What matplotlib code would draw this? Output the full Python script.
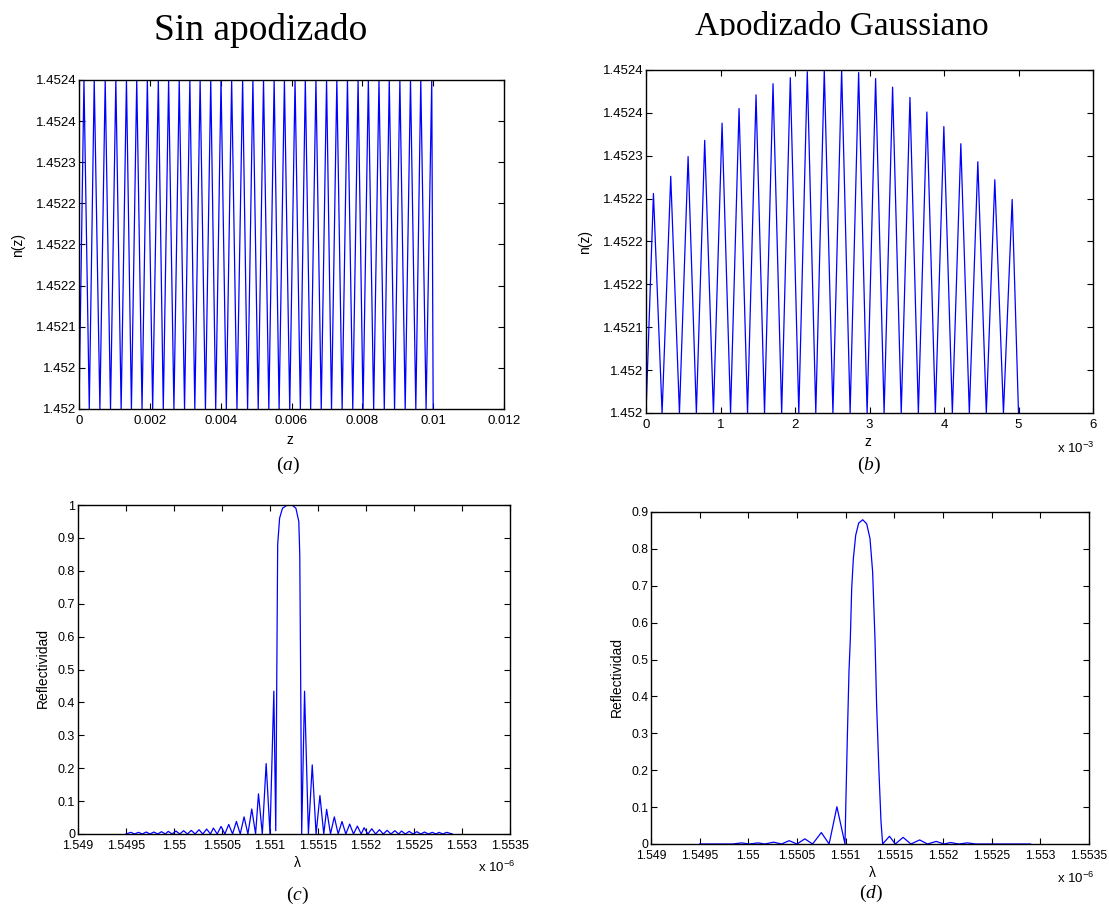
import matplotlib.pyplot as plt
from matplotlib.patches import Rectangle

plt.rcParams['font.family'] = ['Liberation Sans', 'DejaVu Sans']
plt.rcParams['mathtext.fontset'] = 'custom'
plt.rcParams['mathtext.rm'] = 'Liberation Serif'
plt.rcParams['mathtext.it'] = 'Liberation Serif:italic'
plt.rcParams['mathtext.default'] = 'regular'

W, H = 1109, 906
BLUE = (0, 0, 1)

# (a) uniform grating: troughs / crests of n(z), z in m
a_trough_z = [0.0, 0.00029, 0.00059, 0.00089, 0.00119, 0.00148, 0.00178, 0.00208,
              0.00238, 0.00268, 0.00298, 0.00327, 0.00357, 0.00386, 0.00416, 0.00446,
              0.00476, 0.00506, 0.00536, 0.00565, 0.00595, 0.00625, 0.00654, 0.00684,
              0.00713, 0.00743, 0.00773, 0.00802, 0.00832, 0.00862, 0.00891, 0.00921,
              0.00951, 0.00980, 0.01]
a_crest_z = [0.00014, 0.00043, 0.00074, 0.00104, 0.00134, 0.00163, 0.00193, 0.00224,
             0.00253, 0.00283, 0.00313, 0.00342, 0.00372, 0.00401, 0.00431, 0.00462,
             0.00491, 0.00521, 0.00551, 0.00580, 0.00610, 0.00639, 0.00669, 0.00699,
             0.00728, 0.00758, 0.00788, 0.00817, 0.00847, 0.00876, 0.00906, 0.00936,
             0.00965, 0.00996]
n_low, n_high = 1.4520, 1.4524

# (b) gaussian apodized grating, z in units of 1e-3 m
b_trough_z = [0.0, 0.216, 0.449, 0.676, 0.905, 1.135, 1.363, 1.591, 1.821, 2.051,
              2.279, 2.509, 2.740, 2.968, 3.196, 3.426, 3.656, 3.884, 4.112, 4.340,
              4.568, 4.798, 5.0]
b_crest_z = [0.100, 0.332, 0.565, 0.788, 1.021, 1.249, 1.477, 1.705, 1.937, 2.165,
             2.393, 2.626, 2.854, 3.082, 3.310, 3.543, 3.770, 3.998, 4.226, 4.454,
             4.682, 4.915]
b_crest_n = [1.452256, 1.452276, 1.452299, 1.452318, 1.452338, 1.452355, 1.452371,
             1.452384, 1.452391, 1.452398, 1.452400, 1.452400, 1.452397, 1.452390,
             1.452380, 1.452368, 1.452351, 1.452334, 1.452314, 1.452293, 1.452272,
             1.452249]

n_ticks = [1.45200, 1.45205, 1.45210, 1.45215, 1.45220, 1.45225, 1.45230, 1.45235, 1.45240]
n_ticklabels = ['1.452', '1.452', '1.4521', '1.4522', '1.4522', '1.4522', '1.4523',
                '1.4524', '1.4524']
a_xticks = [0, 0.002, 0.004, 0.006, 0.008, 0.01, 0.012]
a_xticklabels = ['0', '0.002', '0.004', '0.006', '0.008', '0.01', '0.012']
b_xticks = [0, 1, 2, 3, 4, 5, 6]

# (c) reflectivity, uniform grating; wavelength in units of 1e-6 m
c_left_trough = [1.5495, 1.54959, 1.54967, 1.54975, 1.54983, 1.54991, 1.54998, 1.55006,
                 1.55014, 1.55022, 1.55030, 1.55038, 1.55045, 1.55053, 1.55061, 1.55069,
                 1.55077, 1.55085, 1.55092, 1.55100]
c_left_peak = [1.54955, 1.54963, 1.54971, 1.54979, 1.54987, 1.54994, 1.55002, 1.55010,
               1.55018, 1.55026, 1.55034, 1.55041, 1.55049, 1.55057, 1.55065, 1.55073,
               1.55081, 1.55088, 1.55096, 1.55104]
c_left_R = [0.005, 0.005, 0.006, 0.006, 0.007, 0.008, 0.009, 0.010, 0.011, 0.013,
            0.015, 0.018, 0.023, 0.029, 0.038, 0.052, 0.076, 0.122, 0.214, 0.434]
c_main_lam = [1.55106, 1.55107, 1.55108, 1.55110, 1.55113, 1.55118, 1.55123, 1.55127,
              1.55130, 1.55131, 1.55132, 1.55133]
c_main_R = [0.01, 0.45, 0.88, 0.96, 0.99, 1.0, 1.0, 0.99, 0.95, 0.85, 0.45, 0.0]
c_right_peak = [1.55136, 1.55144, 1.55152, 1.55159, 1.55167, 1.55175, 1.55183, 1.55191,
                1.55198, 1.55206, 1.55214, 1.55222, 1.55230, 1.55237, 1.55245, 1.55253,
                1.55261, 1.55269, 1.55276, 1.55284]
c_right_R = [0.434, 0.210, 0.117, 0.075, 0.052, 0.038, 0.030, 0.024, 0.019, 0.016,
             0.013, 0.011, 0.010, 0.009, 0.008, 0.007, 0.006, 0.005, 0.005, 0.005]
c_right_trough = [1.55140, 1.55148, 1.55156, 1.55163, 1.55171, 1.55179, 1.55187, 1.55195,
                  1.55202, 1.55210, 1.55218, 1.55226, 1.55234, 1.55241, 1.55249, 1.55257,
                  1.55265, 1.55273, 1.55280, 1.55290]

# (d) reflectivity, gaussian apodization
d_start = 1.5495
d_left_trough = [1.54984, 1.55001, 1.55017, 1.55034, 1.55050, 1.55066, 1.55083]
d_left_peak = [1.54993, 1.55010, 1.55026, 1.55042, 1.55058, 1.55075, 1.55091]
d_left_R = [0.003, 0.003, 0.005, 0.009, 0.014, 0.031, 0.101]
d_main_lam = [1.550993, 1.551003, 1.551017, 1.551034, 1.551048, 1.551062, 1.551079,
              1.551103, 1.551134, 1.551175, 1.551216, 1.551250, 1.551277, 1.551301,
              1.551318, 1.551342, 1.551363, 1.551380]
d_main_R = [0.0, 0.124, 0.287, 0.467, 0.557, 0.693, 0.774, 0.837, 0.870, 0.879, 0.868,
            0.828, 0.738, 0.557, 0.377, 0.196, 0.061, 0.0]
d_right_peak = [1.55145, 1.55159, 1.55176, 1.55193, 1.55208, 1.55225]
d_right_R = [0.021, 0.018, 0.011, 0.007, 0.004, 0.003]
d_right_trough = [1.55151, 1.55167, 1.55184, 1.55201, 1.55216, 1.55234]
d_end = 1.5529

lam_ticks = [1.549, 1.5495, 1.55, 1.5505, 1.551, 1.5515, 1.552, 1.5525, 1.553, 1.5535]
lam_ticklabels = ['1.549', '1.5495', '1.55', '1.5505', '1.551', '1.5515', '1.552',
                  '1.5525', '1.553', '1.5535']
r_yticks = [0, 0.1, 0.2, 0.3, 0.4, 0.5, 0.6, 0.7, 0.8, 0.9, 1]
r_yticklabels = ['0', '0.1', '0.2', '0.3', '0.4', '0.5', '0.6', '0.7', '0.8', '0.9', '1']


def zigzag(lows, peaks, heights, base, peak_first=False):
    """Alternate base-level points with peaks; a surplus low closes the run."""
    xs, ys = [], []
    for i in range(len(peaks)):
        if peak_first:
            xs += [peaks[i], lows[i]]
            ys += [heights[i], base]
        else:
            xs += [lows[i], peaks[i]]
            ys += [base, heights[i]]
    if len(lows) > len(peaks):
        xs.append(lows[-1])
        ys.append(base)
    return xs, ys


fig = plt.figure(figsize=(W / 100, H / 100), dpi=100)


def panel(l, t, r, b, size=9.5):
    ax = fig.add_axes([l / W, 1 - b / H, (r - l) / W, (b - t) / H])
    ax.tick_params(direction='in', top=True, right=True, length=4, width=0.8,
                   labelsize=size, colors='black')
    ax.tick_params(axis='x', pad=4)
    ax.tick_params(axis='y', pad=2)
    for s in ax.spines.values():
        s.set_linewidth(1.0)
    return ax


def ftext(x, y, s, **kw):
    return fig.text(x / W, 1 - y / H, s, **kw)


# (a)
ax = panel(79, 80, 504, 409)
za, na = zigzag(a_trough_z, a_crest_z, [n_high] * len(a_crest_z), n_low)
ax.plot(za, na, color=BLUE, lw=0.9)
ax.set_xlim(0, 0.012)
ax.set_ylim(n_low, n_high)
ax.set_xticks(a_xticks, a_xticklabels)
ax.set_yticks(n_ticks, n_ticklabels)

# (b)
ax = panel(646, 70, 1093, 413)
zb, nb = zigzag(b_trough_z, b_crest_z, b_crest_n, n_low)
ax.plot(zb, nb, color=BLUE, lw=0.9)
ax.set_xlim(0, 6)
ax.set_ylim(n_low, n_high)
ax.set_xticks(b_xticks, [str(v) for v in b_xticks])
ax.set_yticks(n_ticks, n_ticklabels)

# (c)
ax = panel(78, 505, 510, 834, size=9)
xl, yl = zigzag(c_left_trough, c_left_peak, c_left_R, 0.0)
xr, yr = zigzag(c_right_trough, c_right_peak, c_right_R, 0.0, peak_first=True)
ax.plot(xl + c_main_lam + xr, yl + c_main_R + yr, color=BLUE, lw=0.9)
ax.set_xlim(1.549, 1.5535)
ax.set_ylim(0, 1)
ax.set_xticks(lam_ticks, lam_ticklabels)
ax.set_yticks(r_yticks, r_yticklabels)

# (d)
ax = panel(651, 512, 1089, 844, size=8.8)
xl, yl = zigzag(d_left_trough, d_left_peak, d_left_R, 0.0)
xr, yr = zigzag(d_right_trough, d_right_peak, d_right_R, 0.0, peak_first=True)
ax.plot([d_start] + xl + d_main_lam + xr + [d_end],
        [0.0] + yl + d_main_R + yr + [0.0], color=BLUE, lw=0.9)
ax.set_xlim(1.549, 1.5535)
ax.set_ylim(0, 0.9)
ax.set_xticks(lam_ticks, lam_ticklabels)
ax.set_yticks(r_yticks[:-1], r_yticklabels[:-1])

# titles
ftext(261, 40, 'Sin apodizado', fontsize=27, family='Liberation Serif', ha='center',
      va='baseline')
ftext(842, 35, 'Apodizado Gaussiano', fontsize=24, family='Liberation Serif',
      ha='center', va='baseline')
fig.patches.append(Rectangle((670 / W, 1 - 48 / H), 350 / W, 12 / H, transform=fig.transFigure,
                             facecolor='white', edgecolor='none', zorder=5))

# axis labels
ftext(290, 440, 'z', fontsize=10, ha='center', va='center')
ftext(868, 442, 'z', fontsize=10, ha='center', va='center')
ftext(297, 863, 'λ', fontsize=10, ha='center', va='center')
ftext(872, 873, 'λ', fontsize=10, ha='center', va='center')
ftext(18, 245, 'n(z)', fontsize=10, rotation=90, ha='center', va='center')
ftext(585, 242, 'n(z)', fontsize=10, rotation=90, ha='center', va='center')
ftext(43, 668, 'Reflectividad', fontsize=10, rotation=90, ha='center', va='center')
ftext(617, 677, 'Reflectividad', fontsize=10, rotation=90, ha='center', va='center')

# exponent labels
ftext(1094, 448, r'x 10$^{-3}$', fontsize=9.5, ha='right', va='center')
ftext(515, 867, r'x 10$^{-6}$', fontsize=9.5, ha='right', va='center')
ftext(1094, 878, r'x 10$^{-6}$', fontsize=9.5, ha='right', va='center')

# sub-figure captions
for x, y, letter in [(288, 465, 'a'), (869, 465, 'b'), (297, 895, 'c'), (871, 893, 'd')]:
    ftext(x, y, '(' + r'$\mathit{' + letter + '}$' + ')', fontsize=14,
          family='Liberation Serif', ha='center', va='center')

fig.savefig('out.png', dpi=100)
plt.close(fig)
